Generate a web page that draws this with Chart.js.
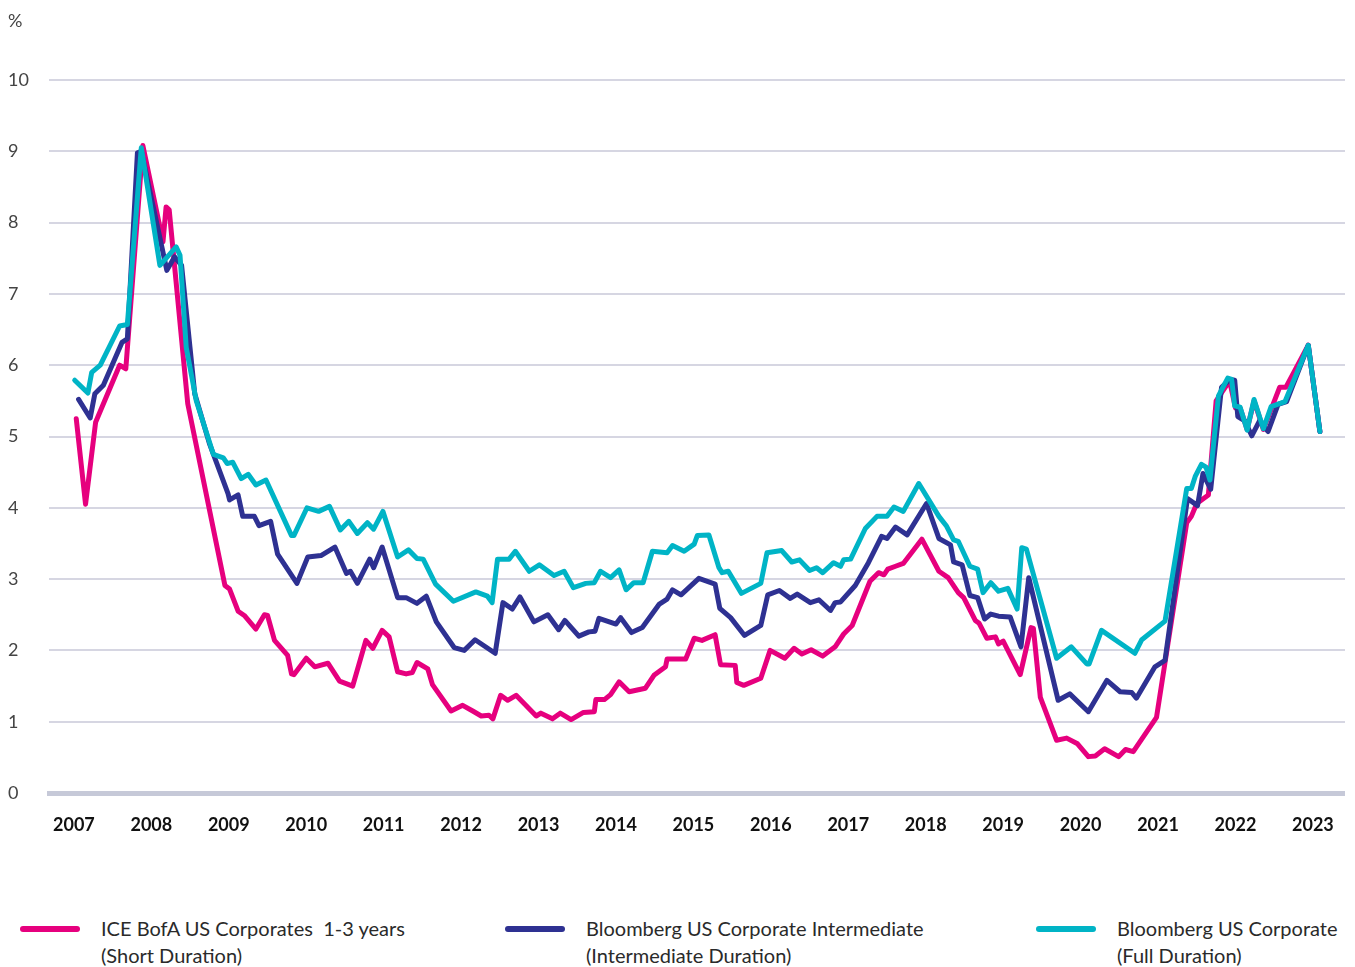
<!DOCTYPE html>
<html>
<head>
<meta charset="utf-8">
<script src="https://cdn.jsdelivr.net/npm/chart.js@4.4.0/dist/chart.umd.min.js"></script>
<style>
  body { margin: 0; background: #fff; font-family: Lato, sans-serif; }
  #wrap { position: relative; width: 1355px; height: 967px; }
  #chart-box { position: absolute; left: 0; top: 0; width: 1355px; height: 870px; }
  #legend { position: absolute; left: 0; top: 915px; width: 1355px; }
  .item { position: absolute; top: 0; }
  .swatch { position: absolute; left: 0; top: 11px; width: 60px; height: 6px; border-radius: 3px; }
  .text { position: absolute; left: 81px; top: 0; white-space: pre; font-size: 20px; line-height: 27px; color: #2a2a2a; }
</style>
</head>
<body>
<div id="wrap">
  <div id="chart-box"><canvas id="yield-chart"></canvas></div>
  <div id="legend"></div>
</div>
<script>
// x tick labels (years) and y ticks
var yearTicks = [2007, 2008, 2009, 2010, 2011, 2012, 2013, 2014, 2015, 2016, 2017, 2018, 2019, 2020, 2021, 2022, 2023];

// ICE BofA US Corporates 1-3 years (short duration)
var shortDates = [2007.03, 2007.15, 2007.28, 2007.59, 2007.67, 2007.89,
    2008.15, 2008.19, 2008.23, 2008.47, 2008.95,
    2009.01, 2009.12, 2009.20, 2009.35, 2009.46, 2009.50, 2009.59, 2009.76, 2009.81, 2009.84,
    2010.00, 2010.11, 2010.28, 2010.43, 2010.60, 2010.77, 2010.86, 2010.98,
    2011.07, 2011.18, 2011.29, 2011.37, 2011.43, 2011.57, 2011.63, 2011.87,
    2012.02, 2012.15, 2012.26, 2012.36, 2012.41, 2012.51, 2012.60, 2012.71, 2012.97,
    2013.03, 2013.18, 2013.28, 2013.42, 2013.58, 2013.72, 2013.74, 2013.85, 2013.93,
    2014.04, 2014.17, 2014.38, 2014.49, 2014.64, 2014.66, 2014.90,
    2015.01, 2015.11, 2015.28, 2015.35, 2015.54, 2015.56, 2015.65, 2015.87, 2015.99,
    2016.18, 2016.30, 2016.40, 2016.52, 2016.67, 2016.83, 2016.94,
    2017.05, 2017.28, 2017.39, 2017.46, 2017.51, 2017.61, 2017.71, 2017.95,
    2018.17, 2018.29, 2018.42, 2018.49, 2018.64, 2018.69, 2018.79, 2018.90, 2018.94,
    2019.00, 2019.22, 2019.36, 2019.39, 2019.48, 2019.69, 2019.82, 2019.96,
    2020.10, 2020.19, 2020.31, 2020.49, 2020.58, 2020.68, 2020.98,
    2021.37, 2021.43, 2021.50, 2021.65, 2021.75, 2021.88, 2021.92,
    2022.00, 2022.06, 2022.15, 2022.24, 2022.36, 2022.57, 2022.65, 2022.94,
    2023.09];
var shortYields = [5.25, 4.05, 5.2, 6.0, 5.95, 9.08,
    7.73, 8.22, 8.18, 5.46, 2.91,
    2.86, 2.55, 2.49, 2.30, 2.50, 2.49, 2.14, 1.93, 1.67, 1.66,
    1.89, 1.77, 1.82, 1.57, 1.50, 2.14, 2.03, 2.28,
    2.19, 1.70, 1.67, 1.69, 1.83, 1.74, 1.52, 1.15,
    1.23, 1.15, 1.08, 1.09, 1.04, 1.37, 1.30, 1.37, 1.08,
    1.12, 1.04, 1.12, 1.03, 1.13, 1.14, 1.31, 1.31, 1.38,
    1.56, 1.42, 1.47, 1.65, 1.77, 1.88, 1.88,
    2.17, 2.14, 2.22, 1.80, 1.79, 1.55, 1.51, 1.61, 2.0,
    1.89, 2.03, 1.95, 2.01, 1.92, 2.05, 2.23,
    2.35, 2.97, 3.09, 3.06, 3.14, 3.18, 3.22, 3.56,
    3.11, 3.02, 2.81, 2.74, 2.42, 2.38, 2.17, 2.19, 2.09,
    2.13, 1.66, 2.32, 2.31, 1.34, 0.74, 0.77, 0.69,
    0.51, 0.52, 0.62, 0.51, 0.61, 0.58, 1.06,
    3.79, 3.88, 4.06, 4.18, 5.5, 5.71, 5.8,
    5.4, 5.4, 5.1, 5.5, 5.1, 5.69, 5.69, 6.28,
    5.07];

// Bloomberg US Corporate Intermediate
var interDates = [2007.06, 2007.21, 2007.27, 2007.38, 2007.62, 2007.69, 2007.82, 2007.87,
    2008.20, 2008.30, 2008.39, 2008.56, 2008.75, 2008.99,
    2009.01, 2009.12, 2009.18, 2009.33, 2009.39, 2009.54, 2009.63, 2009.88,
    2010.02, 2010.19, 2010.37, 2010.52, 2010.57, 2010.66, 2010.82, 2010.87, 2010.98,
    2011.18, 2011.29, 2011.43, 2011.55, 2011.68, 2011.91,
    2012.04, 2012.18, 2012.44, 2012.54, 2012.66, 2012.76, 2012.94,
    2013.12, 2013.26, 2013.34, 2013.52, 2013.65, 2013.73, 2013.78,
    2014.00, 2014.06, 2014.20, 2014.34, 2014.56, 2014.66, 2014.73, 2014.84,
    2015.07, 2015.28, 2015.34, 2015.48, 2015.66, 2015.87, 2015.96,
    2016.11, 2016.25, 2016.34, 2016.51, 2016.62, 2016.77, 2016.83, 2016.90,
    2017.09, 2017.26, 2017.43, 2017.50, 2017.61, 2017.76,
    2018.01, 2018.17, 2018.32, 2018.36, 2018.47, 2018.57, 2018.67, 2018.76, 2018.84, 2018.94,
    2019.09, 2019.23, 2019.33, 2019.71, 2019.86,
    2020.10, 2020.34, 2020.51, 2020.66, 2020.72, 2020.96,
    2021.09, 2021.38, 2021.51, 2021.58, 2021.68, 2021.82, 2021.93, 2021.99,
    2022.03, 2022.12, 2022.21, 2022.31, 2022.42, 2022.55, 2022.66, 2022.94,
    2023.09];
var interYields = [5.52, 5.26, 5.6, 5.72, 6.32, 6.37, 8.98, 9.0,
    7.33, 7.52, 7.4, 5.6, 4.9, 4.2,
    4.11, 4.18, 3.88, 3.88, 3.75, 3.81, 3.35, 2.94,
    3.31, 3.33, 3.45, 3.08, 3.11, 2.94, 3.28, 3.16, 3.45,
    2.74, 2.74, 2.66, 2.76, 2.40, 2.04,
    2.0, 2.15, 1.96, 2.67, 2.58, 2.75, 2.40,
    2.50, 2.29, 2.42, 2.2, 2.26, 2.27, 2.45,
    2.37, 2.46, 2.25, 2.32, 2.65, 2.72, 2.85, 2.78,
    3.01, 2.93, 2.59, 2.46, 2.21, 2.35, 2.78,
    2.84, 2.73, 2.79, 2.67, 2.71, 2.56, 2.67, 2.68,
    2.91, 3.23, 3.6, 3.57, 3.73, 3.62,
    4.06, 3.57, 3.48, 3.24, 3.2, 2.77, 2.74, 2.44, 2.51, 2.48,
    2.47, 2.05, 3.02, 1.30, 1.39,
    1.14, 1.58, 1.42, 1.41, 1.33, 1.77,
    1.86, 4.13, 4.03, 4.48, 4.26, 5.69, 5.8, 5.79,
    5.28, 5.22, 5.01, 5.22, 5.07, 5.45, 5.49, 6.28,
    5.07];

// Bloomberg US Corporate (full duration)
var fullDates = [2007.01, 2007.18, 2007.23, 2007.34, 2007.59, 2007.69, 2007.87,
    2008.11, 2008.32, 2008.37, 2008.45, 2008.58, 2008.80, 2008.93, 2008.98,
    2009.05, 2009.16, 2009.25, 2009.35, 2009.48, 2009.81, 2009.84,
    2010.01, 2010.16, 2010.30, 2010.44, 2010.55, 2010.66, 2010.79, 2010.87, 2010.99,
    2011.18, 2011.32, 2011.43, 2011.51, 2011.67, 2011.90,
    2012.19, 2012.34, 2012.40, 2012.47, 2012.62, 2012.70, 2012.88,
    2013.01, 2013.20, 2013.33, 2013.45, 2013.61, 2013.72, 2013.80, 2013.93,
    2014.04, 2014.13, 2014.23, 2014.35, 2014.47, 2014.66, 2014.73, 2014.88,
    2015.01, 2015.05, 2015.20, 2015.33, 2015.37, 2015.45, 2015.62, 2015.87, 2015.95,
    2016.14, 2016.27, 2016.37, 2016.50, 2016.59, 2016.67, 2016.81, 2016.90, 2016.94,
    2017.03, 2017.22, 2017.37, 2017.50, 2017.59, 2017.71, 2017.91,
    2018.17, 2018.27, 2018.36, 2018.42, 2018.57, 2018.67, 2018.74, 2018.84, 2018.94,
    2019.06, 2019.18, 2019.24, 2019.30, 2019.69, 2019.88,
    2020.08, 2020.11, 2020.27, 2020.70, 2020.79,
    2021.09, 2021.37, 2021.43, 2021.48, 2021.56, 2021.62, 2021.67, 2021.78, 2021.90, 2021.95, 2021.99,
    2022.06, 2022.15, 2022.24, 2022.36, 2022.46, 2022.64, 2022.94,
    2023.09];
var fullYields = [5.79, 5.61, 5.9, 6.0, 6.55, 6.57, 9.05,
    7.4, 7.66, 7.54, 6.25, 5.5, 4.75, 4.70, 4.62,
    4.64, 4.41, 4.47, 4.32, 4.39, 3.61, 3.61,
    4.0, 3.95, 4.02, 3.69, 3.81, 3.64, 3.79, 3.70, 3.95,
    3.31, 3.41, 3.29, 3.28, 2.93, 2.69,
    2.82, 2.76, 2.67, 3.28, 3.28, 3.39, 3.11,
    3.20, 3.05, 3.11, 2.88, 2.94, 2.95, 3.11, 3.02,
    3.13, 2.85, 2.95, 2.95, 3.39, 3.37, 3.47, 3.39,
    3.49, 3.61, 3.62, 3.16, 3.09, 3.11, 2.80, 2.94, 3.37,
    3.40, 3.24, 3.27, 3.12, 3.16, 3.09, 3.23, 3.18, 3.27,
    3.28, 3.71, 3.88, 3.88, 4.01, 3.95, 4.34,
    3.88, 3.74, 3.55, 3.53, 3.18, 3.14, 2.81, 2.95, 2.83,
    2.87, 2.58, 3.44, 3.42, 1.89, 2.05,
    1.81, 1.81, 2.28, 1.96, 2.15,
    2.41, 4.27, 4.27, 4.44, 4.61, 4.57, 4.39, 5.57, 5.82, 5.8, 5.43,
    5.41, 5.09, 5.52, 5.11, 5.42, 5.49, 6.28,
    5.07];

var seriesLabels = ['ICE BofA US Corporates  1-3 years\n(Short Duration)',
    'Bloomberg US Corporate Intermediate\n(Intermediate Duration)',
    'Bloomberg US Corporate\n(Full Duration)'];
var seriesColors = ['#e6007e', '#2e3192', '#00b4c6'];


function toPoints(dates, values) {
    return dates.map(function(d, i) { return { x: d, y: values[i] }; });
}


// the % unit sits above the y axis
var unitLabel = {
    id: 'unitLabel',
    afterDraw: function(chart) {
        var ctx = chart.ctx;
        ctx.save();
        ctx.font = '18px Lato';
        ctx.fillStyle = '#444';
        ctx.textBaseline = 'middle';
        ctx.fillText('%', 8, 21);
        ctx.restore();
    }
};


function buildLegend(chart) {
    var box = document.getElementById('legend');
    var lefts = [20, 505, 1036];
    chart.data.datasets.forEach(function(ds, i) {
        var item = document.createElement('div');
        item.className = 'item';
        item.style.left = lefts[i] + 'px';
        var sw = document.createElement('div');
        sw.className = 'swatch';
        sw.style.background = ds.borderColor;
        var txt = document.createElement('div');
        txt.className = 'text';
        txt.textContent = ds.label;
        item.appendChild(sw);
        item.appendChild(txt);
        box.appendChild(item);
    });
}


var ctx = document.getElementById('yield-chart');

var chart = new Chart(ctx, {
    type: 'line',
    data: {
        datasets: [
            { label: seriesLabels[0], data: toPoints(shortDates, shortYields), borderColor: seriesColors[0], order: 3 },
            { label: seriesLabels[1], data: toPoints(interDates, interYields), borderColor: seriesColors[1], order: 2 },
            { label: seriesLabels[2], data: toPoints(fullDates, fullYields), borderColor: seriesColors[2], order: 1 }
        ]
    },
    options: {
        responsive: true,
        maintainAspectRatio: false,
        animation: false,
        layout: { padding: { left: 8, right: 8, top: 80, bottom: 24 } },
        plugins: {
            legend: { display: false },
            tooltip: { enabled: false }
        },
        elements: {
            point: { radius: 0 },
            line: { borderWidth: 5, tension: 0, borderJoinStyle: 'round', borderCapStyle: 'round' }
        },
        scales: {
            x: {
                type: 'linear',
                min: 2006.678,
                max: 2023.414,
                afterBuildTicks: function(scale) {
                    scale.ticks = yearTicks.map(function(v) { return { value: v }; });
                },
                afterFit: function(scale) { scale.height = 53; },
                grid: { display: false, drawTicks: false },
                border: { display: true, color: '#c6c9d8', width: 5 },
                ticks: {
                    padding: 21,
                    autoSkip: false,
                    maxRotation: 0,
                    color: '#111',
                    font: { family: 'Lato', size: 18, weight: 'bold' },
                    callback: function(v) { return String(v); }
                }
            },
            y: {
                min: 0,
                max: 10,
                afterFit: function(scale) { scale.width = 41; },
                grid: { color: '#d6d6e2', lineWidth: 2, drawTicks: false },
                border: { display: false },
                ticks: {
                    stepSize: 1,
                    crossAlign: 'far',
                    padding: 0,
                    color: '#444',
                    font: { family: 'Lato', size: 18 }
                }
            }
        }
    },
    plugins: [unitLabel]
});

buildLegend(chart);
</script>
</body>
</html>
